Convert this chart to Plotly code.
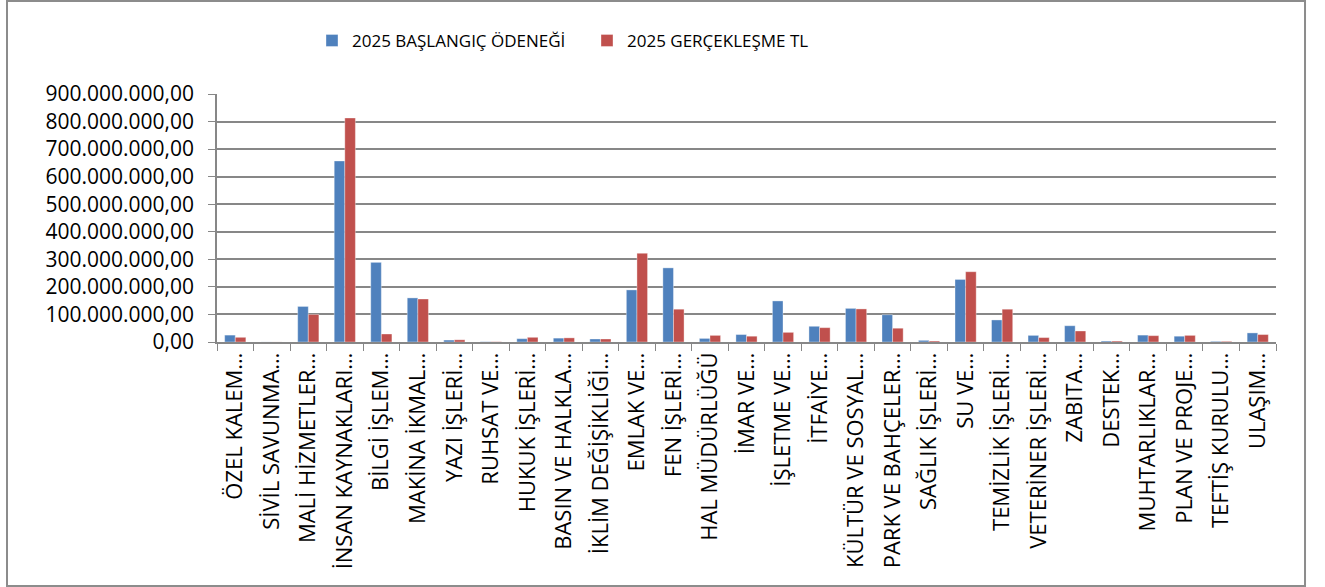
import plotly.graph_objects as go

categories = [
    "ÖZEL KALEM…", "SİVİL SAVUNMA…", "MALİ HİZMETLER…", "İNSAN KAYNAKLARI…",
    "BİLGİ İŞLEM…", "MAKİNA İKMAL…", "YAZI İŞLERİ…", "RUHSAT VE…",
    "HUKUK İŞLERİ…", "BASIN VE HALKLA…", "İKLİM DEĞİŞİKLİĞİ…", "EMLAK VE…",
    "FEN İŞLERİ…", "HAL MÜDÜRLÜĞÜ", "İMAR VE…", "İŞLETME VE…", "İTFAİYE…",
    "KÜLTÜR VE SOSYAL…", "PARK VE BAHÇELER…", "SAĞLIK İŞLERİ…", "SU VE…",
    "TEMİZLİK İŞLERİ…", "VETERİNER İŞLERİ…", "ZABITA…", "DESTEK…",
    "MUHTARLIKLAR…", "PLAN VE PROJE…", "TEFTİŞ KURULU…", "ULAŞIM…",
]

baslangic = [
    25e6, 0.3e6, 129e6, 657e6, 289e6, 160e6, 7e6, 1e6, 12e6, 14e6, 11e6, 189e6,
    269e6, 13e6, 27e6, 149e6, 57e6, 122e6, 99e6, 6e6, 227e6, 80e6, 24e6, 59e6,
    3.5e6, 25e6, 21e6, 2.4e6, 33e6,
]

gerceklesme = [
    17e6, 0.2e6, 100e6, 813e6, 29e6, 156e6, 8e6, 1e6, 17e6, 15e6, 11e6, 322e6,
    119e6, 24e6, 21e6, 35e6, 52e6, 120e6, 50e6, 3.6e6, 255e6, 119e6, 16e6, 40e6,
    3.5e6, 23e6, 24e6, 2.4e6, 27e6,
]

series_names = ["2025 BAŞLANGIÇ ÖDENEĞİ", "2025 GERÇEKLEŞME TL"]
colors = ["#4F81BD", "#C0504D"]
y_ticks = [i * 100_000_000 for i in range(10)]

FONT = "Open Sans"
GRID = "#878787"

fig = go.Figure()
for name, vals, col in zip(series_names, [baslangic, gerceklesme], colors):
    fig.add_trace(go.Bar(
        x=categories, y=vals, name=name,
        marker=dict(color=col, line=dict(color="rgba(255,255,255,0.6)", width=0.6)),
    ))

fig.update_layout(
    width=1325, height=587,
    margin=dict(l=217, r=49, t=94, b=245),
    paper_bgcolor="white", plot_bgcolor="white",
    barmode="group", bargap=0.42, bargroupgap=0,
    separators=",.",
    font=dict(family=FONT, color="black"),
    showlegend=True,
    legend=dict(
        orientation="h", x=0.0897, xanchor="left", y=1.214, yanchor="middle",
        font=dict(size=17, family=FONT, color="black"),
        itemwidth=30, entrywidth=230, bgcolor="rgba(0,0,0,0)",
    ),
    xaxis=dict(
        type="category", tickangle=-90, tickson="boundaries",
        ticks="outside", ticklen=7, tickcolor=GRID,
        showline=True, linecolor=GRID, linewidth=1.5,
        showgrid=False,
        tickfont=dict(size=22, family=FONT, color="black"),
    ),
    yaxis=dict(
        range=[0, 900_000_000], tickvals=y_ticks, tickformat=",.2f",
        ticks="outside", ticklen=7, tickcolor=GRID,
        showline=True, linecolor=GRID, linewidth=1.5,
        showgrid=True, gridcolor=GRID, gridwidth=1.5,
        zeroline=False, ticklabelstandoff=10,
        tickfont=dict(size=21, family=FONT, color="black"),
    ),
    shapes=[dict(
        type="rect", xref="paper", yref="paper",
        x0=-0.1983, x1=1.0274, y0=-0.984, y1=1.375,
        line=dict(color="#8c8c8c", width=2), fillcolor="rgba(0,0,0,0)",
        layer="below",
    )],
)

fig.write_html(
    "out.html",
    config={"displayModeBar": False},
    post_script="document.body.style.margin='0px';",
)
